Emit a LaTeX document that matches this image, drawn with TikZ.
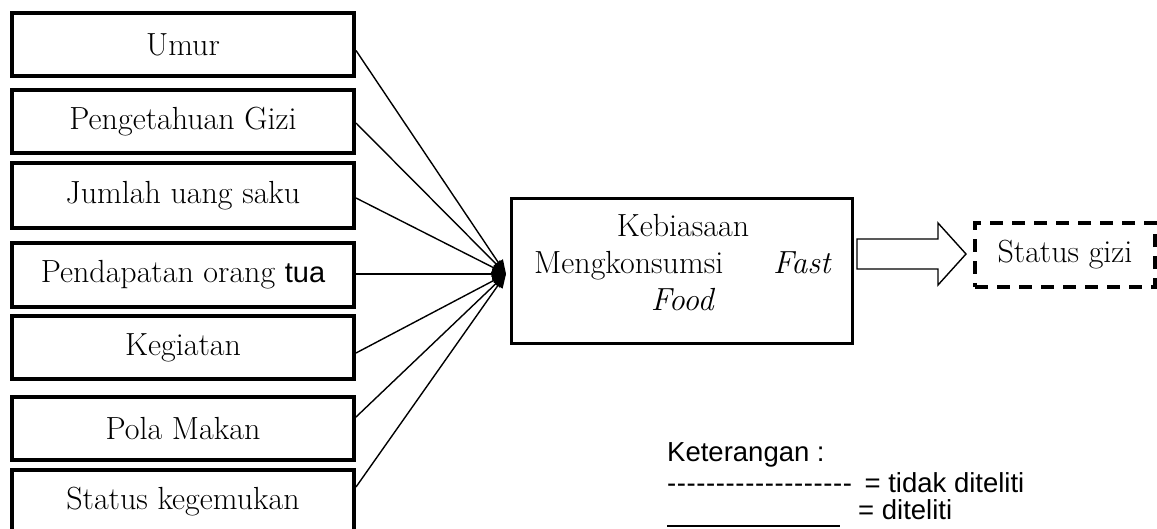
\documentclass[tikz,border=0pt]{standalone}
\usepackage{fontspec}
\newfontfamily\arial{Liberation Sans}
\usetikzlibrary{arrows.meta}
\def\hy{-\kern0.6pt}
\begin{document}
\begin{tikzpicture}[x=1pt,y=-1pt,
  lbox/.style={draw,line width=4pt,minimum width=342pt,inner sep=0pt,font=\fontsize{32}{38}\selectfont},
  conn/.style={line width=1.4pt,-{Triangle[length=14pt,width=11pt]}},
  legend/.style={anchor=west,inner sep=0pt,font=\arial\fontsize{27.5}{32}\selectfont}]
\clip (0,0) rectangle (1157,528);
\fill[white] (0,0) rectangle (1157,528);
% left boxes
\node[lbox,minimum height=63pt] (umur) at (183,44.5) {Umur};
\node[lbox,minimum height=63pt] (peng) at (183,121.5) {Pengetahuan Gizi};
\node[lbox,minimum height=65pt] (jum) at (183,195.5) {Jumlah uang saku};
\node[lbox,minimum height=64pt] (pend) at (183,275) {Pendapatan orang {\arial\fontsize{29}{34}\selectfont tua}};
\node[lbox,minimum height=63pt] (keg) at (183,347.5) {Kegiatan};
\node[lbox,minimum height=63pt] (pola) at (183,428.5) {Pola Makan};
\node[lbox,minimum height=64pt] (gemuk) at (183,502) {Status kegemukan};
% main box
\node[draw,line width=3pt,minimum width=341pt,minimum height=145pt,inner sep=0pt] (main) at (681.5,270.5) {};
\node[align=center,inner sep=0pt,font=\fontsize{32}{37}\selectfont] (mtext) at (683,263)
  {Kebiasaan\\Mengkonsumsi\hspace{50pt}\textit{Fast}\\\textit{Food}};
% outcome
\node[draw,line width=3.5pt,dash pattern=on 13pt off 9pt,minimum width=180pt,minimum height=64pt,inner sep=0pt,font=\fontsize{32}{38}\selectfont] (gizi) at (1065,255) {Status gizi};
% converging connectors
\coordinate (conv) at (506,274);
\draw[conn] ([yshift=-6pt]umur.east) -- (conv);
\draw[conn] ([yshift=-1.5pt]peng.east) -- (conv);
\draw[conn] ([yshift=-2.5pt]jum.east) -- (conv);
\draw[conn] ([yshift=1pt]pend.east) -- (conv);
\draw[conn] ([yshift=-5.5pt]keg.east) -- (conv);
\draw[conn] ([yshift=11.5pt]pola.east) -- (conv);
\draw[conn] ([yshift=15pt]gemuk.east) -- (conv);
% block arrow main -> gizi
\draw[line width=1.4pt,line join=miter] (857,239) -- (938,239) -- (938,223) -- (966,254) -- (938,285) -- (938,269) -- (857,269) -- cycle;
% legend
\node[legend] (ket) at (667,455) {Keterangan :};
\node[legend] (leg1) at (667,483) {\hy\hy\hy\hy\hy\hy\hy\hy\hy\hy\hy\hy\hy\hy\hy\hy\hy\hy\hy\hspace{12pt}= tidak diteliti};
\node[legend] (leg2) at (858,510) {= diteliti};
\coordinate (l1) at (667,526);
\coordinate (l2) at (840,526);
\draw[line width=1.4pt] (l1) -- (l2);
\end{tikzpicture}
\end{document}
